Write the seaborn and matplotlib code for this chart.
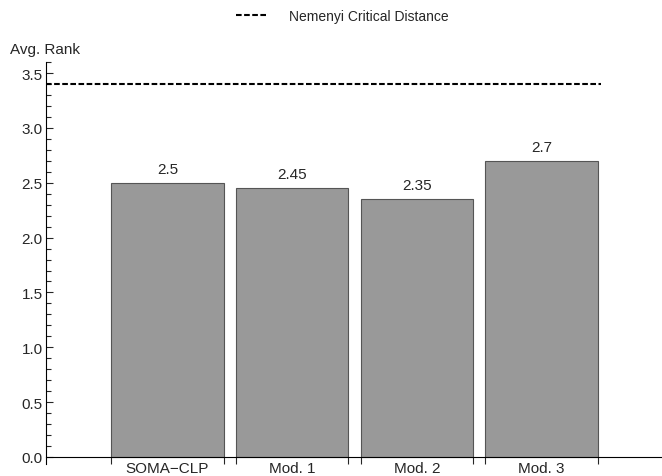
import numpy as np
import pandas as pd
import matplotlib.pyplot as plt
import seaborn as sns
from matplotlib.lines import Line2D
from matplotlib.ticker import MultipleLocator, FixedLocator, FormatStrFormatter

models = ["SOMA\u2212CLP", "Mod. 1", "Mod. 2", "Mod. 3"]
avg_rank = [2.5, 2.45, 2.35, 2.7]
critical_distance = 3.4

df = pd.DataFrame({"model": models, "rank": avg_rank})

sns.set_style("white")
plt.rcParams["font.family"] = ["Liberation Sans", "DejaVu Sans"]

fig = plt.figure(figsize=(6.62, 4.77), dpi=100)
ax = fig.add_axes([0.0689, 0.0252, 0.9311, 0.8425])

bar_w = 0.9
sns.barplot(data=df, x="model", y="rank", color="#999999", saturation=1,
            width=bar_w, edgecolor="#555555", linewidth=0.8, ax=ax)
ax.bar_label(ax.containers[0], fmt="%g", padding=5, fontsize=11)

# critical distance reference line
dash = (0, (2.7, 1.2))
ax.hlines(critical_distance, -0.978, len(models) - 1 + 0.48, color="black",
          lw=1.5, linestyle=dash)

ax.set_xlim(-0.978, 3.966)
ax.set_ylim(-0.064, 3.6)

for s in ["top", "right"]:
    ax.spines[s].set_visible(False)
ax.spines["bottom"].set_position(("data", 0))
for s in ["left", "bottom"]:
    ax.spines[s].set_color("black")
    ax.spines[s].set_linewidth(0.8)

# y ticks
ax.yaxis.set_major_locator(MultipleLocator(0.5))
ax.yaxis.set_minor_locator(MultipleLocator(0.1))
ax.yaxis.set_major_formatter(FormatStrFormatter("%.1f"))
ax.tick_params(axis="y", which="major", direction="in", length=5, width=0.8,
               pad=2, labelsize=11, left=True)
ax.tick_params(axis="y", which="minor", direction="in", length=3.5, width=0.8,
               left=True)

# x ticks: labels at centres, marks at bar edges
pos = np.arange(len(models))
ax.xaxis.set_major_locator(FixedLocator(pos))
ax.set_xticklabels(models)
edges = np.concatenate([pos - bar_w / 2, pos + bar_w / 2])
ax.xaxis.set_minor_locator(FixedLocator(edges))
ax.tick_params(axis="x", which="major", length=0, pad=3, labelsize=11, bottom=True)
ax.tick_params(axis="x", which="minor", direction="out", length=5, width=0.8,
               bottom=True)

ax.set_xlabel("")
ax.set_ylabel("")
fig.text(10 / 662, 1 - 50 / 477, "Avg. Rank", ha="left", va="center", fontsize=11)

handle = Line2D([], [], color="black", lw=1.5, linestyle=dash)
fig.legend(handles=[handle], labels=["Nemenyi Critical Distance"], loc="center",
           bbox_to_anchor=(342 / 662, 1 - 17 / 477), frameon=False,
           handlelength=2.3, handletextpad=1.5, fontsize=10)

fig.savefig("out.png", dpi=100)
